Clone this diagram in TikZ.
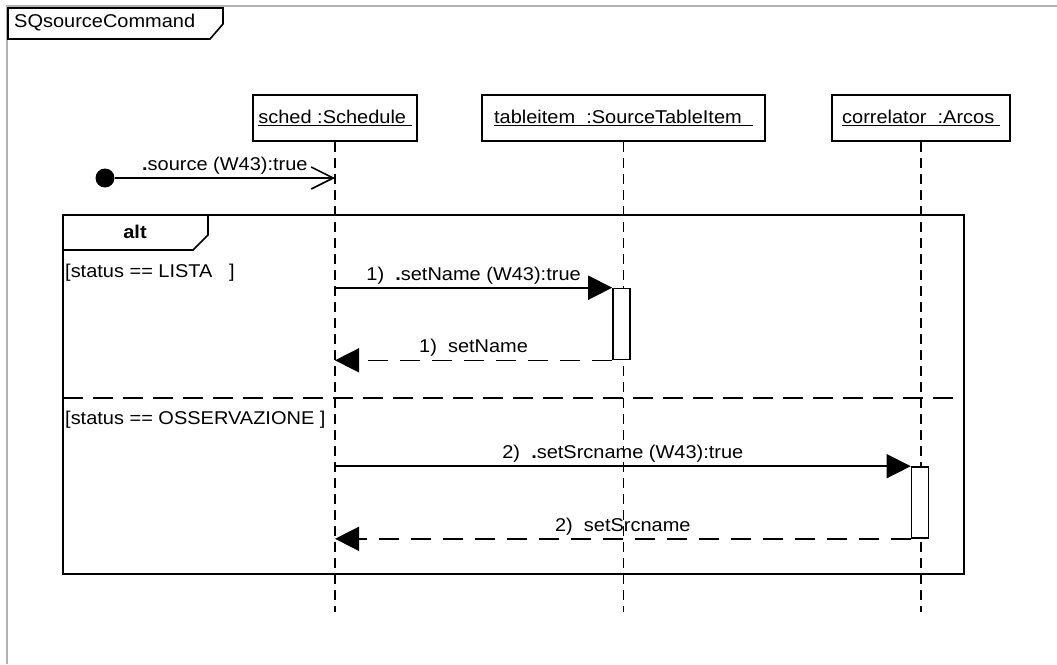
\documentclass[tikz,border=0pt]{standalone}
\usepackage{fontspec}
\setmainfont{Liberation Sans}[FakeStretch = 1.08]
\usetikzlibrary{arrows.meta}

\tikzset{
  every node/.style = {font = \fontsize{18.5}{22}\selectfont},
  obj/.style = {draw, line width = 1.6pt, minimum height = 46pt, inner sep = 0pt},
  lifeline/.style = {line width = 1.6pt, dash pattern = on 10pt off 6pt},
  act/.style = {draw, fill = white, line width = 1.6pt, minimum width = 17pt, minimum height = 71pt, inner sep = 0pt},
  call/.style = {line width = 1.6pt, -{Triangle[length = 24pt, width = 24pt]}},
  reply/.style = {line width = 1.6pt, dash pattern = on 20pt off 12pt, -{Triangle[length = 24pt, width = 24pt]}},
  lbl/.style = {midway, above, inner sep = 3pt}
}

\begin{document}
\begin{tikzpicture}[x = 1pt, y = -1pt]
  \useasboundingbox (0, 0) rectangle (1057, 664);
  % outer frame
  \draw [gray!60, line width = 1.6pt] (7, 664) -- (7, 6) -- (1057, 6);
  \draw [line width = 1.6pt] (8, 8) -- (8, 39) -- (210, 39) -- (223, 24) -- (223, 8) -- cycle;
  \node [anchor = west, inner sep = 0pt] (title) at (14, 23) {SQsourceCommand};

  \node [obj, minimum width = 164pt] (sched) at (335, 118) {\underline{sched :Schedule\ }};
  \node [obj, minimum width = 283pt] (tableitem) at (623.5, 118) {\underline{tableitem\ \ :SourceTableItem\ \ }};
  \node [obj, minimum width = 178pt] (correlator) at (921, 118) {\underline{correlator\ \ :Arcos\ }};

  \coordinate (bottom) at (0, 612);
  \foreach \o in {sched, tableitem, correlator}
    \draw [lifeline] (\o.south) -- (\o.south |- bottom);

  % found message
  \node [circle, fill, minimum size = 19pt, inner sep = 0pt] (start) at (105, 178) {};
  \draw [line width = 1.6pt, -{Straight Barb[length = 22pt, width = 22pt, line width = 1.6pt]}] (start) -- (start -| sched)
        node [lbl] {\textbf{.}source (W43):true};

  % alt fragment
  \coordinate (alt nw) at (63, 215);
  \coordinate (alt se) at (964, 574);
  \draw [line width = 1.6pt] (alt nw) rectangle (alt se);
  \draw [line width = 1.6pt] (63, 250) -- (193, 250) -- (208, 235) -- (208, 215);
  \node [font = \fontsize{18.5}{22}\selectfont\bfseries] (alt) at (135, 232) {alt};
  \draw [line width = 1.6pt, dash pattern = on 20pt off 10pt] (63, 398) -- (964, 398);
  \node [anchor = west, inner sep = 2pt] (guard1) at (63, 273) {[status == LISTA~~~]};
  \node [anchor = west, inner sep = 2pt] (guard2) at (63, 420) {[status == OSSERVAZIONE ]};

  \node [act] (act1) at (621.5, 324) {};
  \node [act] (act2) at (920, 502.5) {};

  \draw [call] (sched |- act1.north) -- (act1.north west) node [lbl] {1)~~\textbf{.}setName (W43):true};
  \draw [reply] (act1.south west) -- (sched |- act1.south) node [lbl] {1)~~setName};
  \draw [call] (sched |- act2.north) -- (act2.north west) node [lbl] {2)~~\textbf{.}setSrcname (W43):true};
  \draw [reply] (act2.south west) -- (sched |- act2.south) node [lbl] {2)~~setSrcname};
\end{tikzpicture}
\end{document}
